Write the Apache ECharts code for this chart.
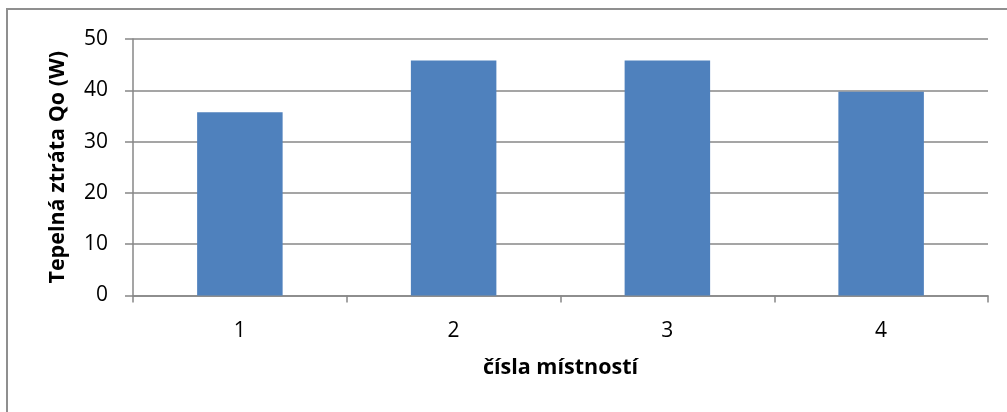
<!DOCTYPE html>
<html>
<head>
<meta charset="utf-8">
<script src="https://cdn.jsdelivr.net/npm/echarts@6/dist/echarts.min.js"></script>
<style>
  html, body { margin: 0; padding: 0; background: #fff; }
  #chart { width: 1007px; height: 412px; }
</style>
</head>
<body>
<div id="chart"></div>
<script>
// Room numbers and their heat loss values
const categories = ['1', '2', '3', '4'];
const heatLoss = [35.7, 45.8, 45.8, 39.7];
const yTicks = { min: 0, max: 50, interval: 10 };

const FONT = '"Open Sans", Lato, sans-serif';
const GREY = '#878787';

const chart = echarts.init(document.getElementById('chart'), null, { renderer: 'canvas' });
chart.setOption({
  animation: false,
  backgroundColor: '#ffffff',
  graphic: [{
    type: 'rect',
    shape: { x: 7, y: 9, width: 1010, height: 410 },
    style: { fill: 'none', stroke: '#8f8f8f', lineWidth: 2 },
    silent: true,
    z: 0
  }],
  grid: { left: 133, right: 19, top: 39, bottom: 116.5 },
  xAxis: {
    type: 'category',
    data: categories,
    name: 'čísla místností',
    nameLocation: 'middle',
    nameGap: 61,
    nameTextStyle: { fontFamily: FONT, fontWeight: 'bold', fontSize: 21.5, color: '#000' },
    axisLine: { lineStyle: { color: GREY, width: 1.5 } },
    axisTick: { show: true, alignWithLabel: false, length: 7, lineStyle: { color: GREY, width: 1.5 } },
    axisLabel: { fontFamily: FONT, fontSize: 21, color: '#000', margin: 25 },
    splitLine: { show: false }
  },
  yAxis: {
    type: 'value',
    min: yTicks.min,
    max: yTicks.max,
    interval: yTicks.interval,
    name: 'Tepelná ztráta Qo (W)',
    nameLocation: 'middle',
    nameRotate: 90,
    nameGap: 64,
    nameTextStyle: { fontFamily: FONT, fontWeight: 'bold', fontSize: 21.5, color: '#000' },
    axisLine: { show: true, lineStyle: { color: GREY, width: 1.5 } },
    axisTick: { show: true, length: 8, lineStyle: { color: GREY, width: 1.5 } },
    axisLabel: { fontFamily: FONT, fontSize: 21, color: '#000', margin: 25 },
    splitLine: { show: true, lineStyle: { color: GREY, width: 1.5 } }
  },
  series: [{
    type: 'bar',
    data: heatLoss,
    barWidth: '40%',
    itemStyle: { color: '#4F81BD' }
  }]
});
</script>
</body>
</html>
